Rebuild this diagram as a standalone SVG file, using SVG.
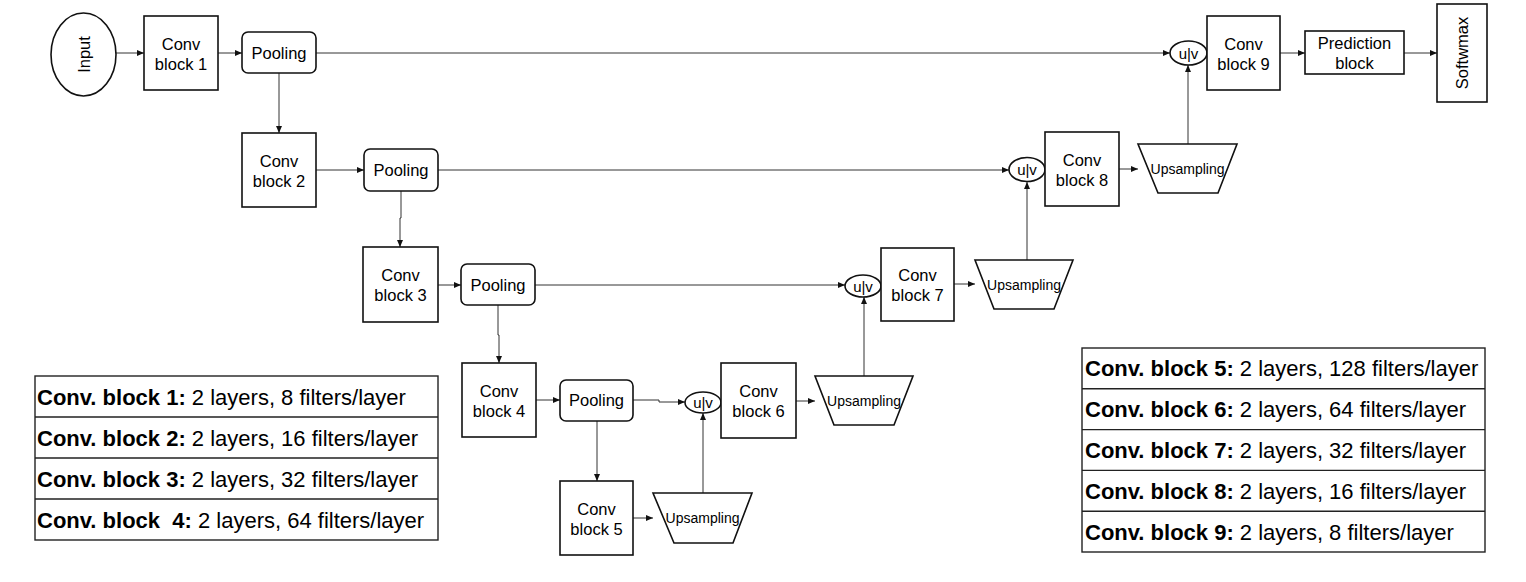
<svg xmlns="http://www.w3.org/2000/svg" width="1526" height="582" viewBox="0 0 1526 582">
<style>
text { font-family: "Liberation Sans", Arial, sans-serif; fill: #000; }
.n { fill: #fff; stroke: #111; stroke-width: 1.6; }
.c { fill: none; stroke: #333; stroke-width: 1; marker-end: url(#a); }
.t { font-size: 16.5px; text-anchor: middle; }
.s { font-size: 14px; text-anchor: middle; }
.u { font-size: 15px; text-anchor: middle; }
.tb { font-size: 22px; }
.tl { fill: none; stroke: #222; stroke-width: 1.4; }
</style>
<defs>
<marker id="a" markerUnits="userSpaceOnUse" markerWidth="8" markerHeight="7" refX="7" refY="3" orient="auto">
<path d="M0,0 L7,3 L0,6 z" fill="#111"/>
</marker>
</defs>
<rect width="1526" height="582" fill="#fff"/>

<g id="connectors">
<path class="c" d="M116,53 H144"/>
<path class="c" d="M218,53 H242"/>
<path class="c" d="M316,53 H1170"/>
<path class="c" d="M279,73 V133"/>
<path class="c" d="M316,170 H364"/>
<path class="c" d="M438,170 H1009"/>
<path class="c" d="M401,191 V218 H400 V247"/>
<path class="c" d="M438,285 H461"/>
<path class="c" d="M535,285 H845"/>
<path class="c" d="M498,305 V335 H499 V363"/>
<path class="c" d="M536,400 H560"/>
<path class="c" d="M633,400 H659 V402 H685"/>
<path class="c" d="M597,421 V481"/>
<path class="c" d="M633,518 H653"/>
<path class="c" d="M703,493 V413"/>
<path class="c" d="M796,401 H815"/>
<path class="c" d="M864,376 V297"/>
<path class="c" d="M954,284 H975"/>
<path class="c" d="M1027,260 V182"/>
<path class="c" d="M1119,169 H1138"/>
<path class="c" d="M1188,144 V65"/>
<path class="c" d="M1280,53 H1305"/>
<path class="c" d="M1404,53 H1437"/>
</g>

<g id="input">
<ellipse class="n" cx="83.5" cy="54.5" rx="32.5" ry="41.5"/>
<text class="t" transform="translate(83.5,54.5) rotate(-90)" x="0" y="6">Input</text>
</g>

<g id="conv1">
<rect class="n" x="144" y="16" width="74" height="74"/>
<text class="t" x="181" y="50">Conv</text>
<text class="t" x="181" y="70">block 1</text>
</g>
<g id="pool1">
<rect class="n" x="242" y="32" width="74" height="41" rx="6"/>
<text class="t" x="279" y="59">Pooling</text>
</g>

<g id="conv2">
<rect class="n" x="242" y="133" width="74" height="74"/>
<text class="t" x="279" y="167">Conv</text>
<text class="t" x="279" y="187">block 2</text>
</g>
<g id="pool2">
<rect class="n" x="364" y="149" width="74" height="42" rx="6"/>
<text class="t" x="401" y="176">Pooling</text>
</g>

<g id="conv3">
<rect class="n" x="363" y="247" width="75" height="75"/>
<text class="t" x="400.5" y="281">Conv</text>
<text class="t" x="400.5" y="301">block 3</text>
</g>
<g id="pool3">
<rect class="n" x="461" y="264" width="74" height="41" rx="6"/>
<text class="t" x="498" y="291">Pooling</text>
</g>

<g id="conv4">
<rect class="n" x="462" y="363" width="74" height="74"/>
<text class="t" x="499" y="397">Conv</text>
<text class="t" x="499" y="417">block 4</text>
</g>
<g id="pool4">
<rect class="n" x="560" y="380" width="73" height="41" rx="6"/>
<text class="t" x="596.5" y="406">Pooling</text>
</g>

<g id="conv5">
<rect class="n" x="560" y="481" width="73" height="74"/>
<text class="t" x="596.5" y="515">Conv</text>
<text class="t" x="596.5" y="535">block 5</text>
</g>
<g id="up5">
<path class="n" d="M653,493 H752 L733,543 H674 Z"/>
<text class="s" x="702.5" y="523">Upsampling</text>
</g>

<g id="uv6">
<ellipse class="n" cx="703" cy="402.5" rx="18" ry="10.5"/>
<text class="u" x="703" y="408">u|v</text>
</g>
<g id="conv6">
<rect class="n" x="721" y="363" width="75" height="75"/>
<text class="t" x="758.5" y="397">Conv</text>
<text class="t" x="758.5" y="417">block 6</text>
</g>
<g id="up6">
<path class="n" d="M815,376 H913 L894,425 H834 Z"/>
<text class="s" x="864" y="406">Upsampling</text>
</g>

<g id="uv7">
<ellipse class="n" cx="863" cy="286" rx="18" ry="11"/>
<text class="u" x="863" y="291.5">u|v</text>
</g>
<g id="conv7">
<rect class="n" x="881" y="248" width="73" height="73"/>
<text class="t" x="917.5" y="281">Conv</text>
<text class="t" x="917.5" y="301">block 7</text>
</g>
<g id="up7">
<path class="n" d="M975,260 H1073 L1054,309 H994 Z"/>
<text class="s" x="1024" y="290">Upsampling</text>
</g>

<g id="uv8">
<ellipse class="n" cx="1027" cy="169.5" rx="18" ry="12"/>
<text class="u" x="1027" y="175">u|v</text>
</g>
<g id="conv8">
<rect class="n" x="1045" y="132" width="74" height="74"/>
<text class="t" x="1082" y="166">Conv</text>
<text class="t" x="1082" y="186">block 8</text>
</g>
<g id="up8">
<path class="n" d="M1138,144 H1237 L1218,193 H1158 Z"/>
<text class="s" x="1187.5" y="174">Upsampling</text>
</g>

<g id="uv9">
<ellipse class="n" cx="1188.5" cy="53" rx="18.5" ry="12"/>
<text class="u" x="1188.5" y="58.5">u|v</text>
</g>
<g id="conv9">
<rect class="n" x="1207" y="16" width="73" height="74"/>
<text class="t" x="1243.5" y="50">Conv</text>
<text class="t" x="1243.5" y="70">block 9</text>
</g>
<g id="prediction">
<rect class="n" x="1305" y="31" width="99" height="43"/>
<text class="t" x="1354.5" y="49">Prediction</text>
<text class="t" x="1354.5" y="69">block</text>
</g>
<g id="softmax">
<rect class="n" x="1437" y="4" width="50" height="98"/>
<text class="t" transform="translate(1462,53) rotate(-90)" x="0" y="6">Softwmax</text>
</g>

<g id="table-left">
<rect class="tl" x="35" y="376" width="403" height="164"/>
<path class="tl" d="M35,417 H438 M35,458 H438 M35,499 H438"/>
<text class="tb" x="37" y="404.5"><tspan font-weight="bold">Conv. block 1:</tspan> 2 layers, 8 filters/layer</text>
<text class="tb" x="37" y="445.5"><tspan font-weight="bold">Conv. block 2:</tspan> 2 layers, 16 filters/layer</text>
<text class="tb" x="37" y="486.5"><tspan font-weight="bold">Conv. block 3:</tspan> 2 layers, 32 filters/layer</text>
<text class="tb" x="37" y="527.5" style="white-space:pre"><tspan font-weight="bold">Conv. block  4:</tspan> 2 layers, 64 filters/layer</text>
</g>

<g id="table-right">
<rect class="tl" x="1082" y="348" width="403" height="204"/>
<path class="tl" d="M1082,388.8 H1485 M1082,429.6 H1485 M1082,470.4 H1485 M1082,511.2 H1485"/>
<text class="tb" x="1085" y="376.4"><tspan font-weight="bold">Conv. block 5:</tspan> 2 layers, 128 filters/layer</text>
<text class="tb" x="1085" y="417.2"><tspan font-weight="bold">Conv. block 6:</tspan> 2 layers, 64 filters/layer</text>
<text class="tb" x="1085" y="458"><tspan font-weight="bold">Conv. block 7:</tspan> 2 layers, 32 filters/layer</text>
<text class="tb" x="1085" y="498.8"><tspan font-weight="bold">Conv. block 8:</tspan> 2 layers, 16 filters/layer</text>
<text class="tb" x="1085" y="539.6"><tspan font-weight="bold">Conv. block 9:</tspan> 2 layers, 8 filters/layer</text>
</g>
</svg>
